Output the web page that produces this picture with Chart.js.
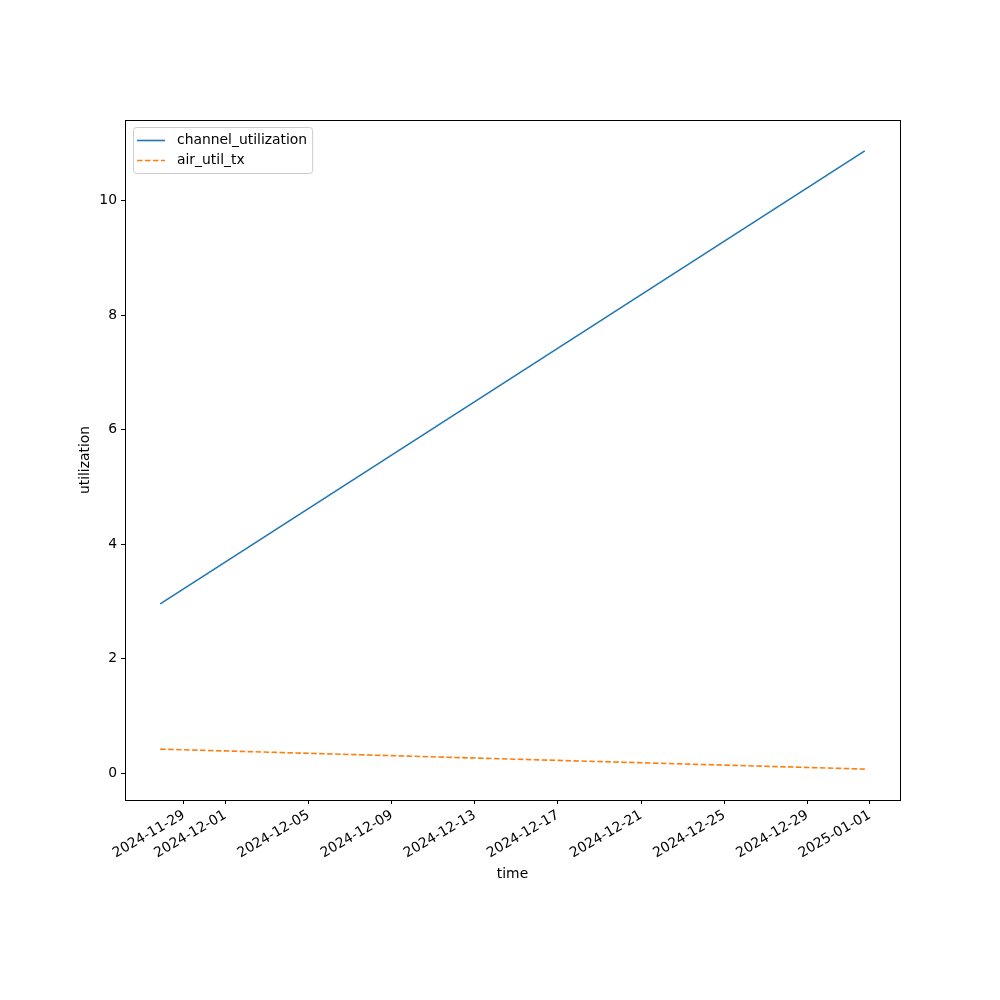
<!DOCTYPE html>
<html>
<head>
<meta charset="utf-8">
<script src="https://cdn.jsdelivr.net/npm/chart.js@4.4.1/dist/chart.umd.min.js"></script>
<style>
    body { margin: 0; background: #fff; }
    #wrap { width: 1000px; height: 1000px; }
</style>
</head>
<body>
<div id="wrap"><canvas id="utilChart"></canvas></div>
<script>
// Data
const timestamps = ['2024-11-27T20:40:00Z', '2024-12-31T18:15:00Z'];
const channelUtilization = [2.96, 10.87];
const airUtilTx = [0.424, 0.075];
const seriesNames = ['channel_utilization', 'air_util_tx'];
const xTickLabels = ['2024-11-29', '2024-12-01', '2024-12-05', '2024-12-09', '2024-12-13',
    '2024-12-17', '2024-12-21', '2024-12-25', '2024-12-29', '2025-01-01'];
const yTickLabels = [0, 2, 4, 6, 8, 10];

const FONT = 'DejaVu Sans';
const FS = 13.9;

function toMs(s) { return new Date(s).getTime(); }
function pad2(n) { return String(n).padStart(2, '0'); }
function fmtDate(ms) {
    const d = new Date(ms);
    return d.getUTCFullYear() + '-' + pad2(d.getUTCMonth() + 1) + '-' + pad2(d.getUTCDate());
}

const xs = timestamps.map(toMs);
const xSpan = xs[xs.length - 1] - xs[0];
const allY = channelUtilization.concat(airUtilTx);
const yLo = Math.min(...allY), yHi = Math.max(...allY);
const ySpan = yHi - yLo;

// matplotlib-style frame and legend
const framePlugin = {
    id: 'frame',
    afterDraw(chart) {
        const { ctx, chartArea: a } = chart;
        ctx.save();
        ctx.strokeStyle = '#000';
        ctx.lineWidth = 1;
        ctx.strokeRect(Math.round(a.left) + 0.5, Math.round(a.top) + 0.5,
            Math.round(a.right - a.left), Math.round(a.bottom - a.top));

        // legend
        ctx.font = FS + 'px "' + FONT + '"';
        const names = chart.data.datasets.map(ds => ds.label);
        const textW = Math.max(...names.map(n => ctx.measureText(n).width));
        const bx = a.left + 8, by = a.top + 7;
        const bw = 44 + textW + 5, bh = 46;
        ctx.beginPath();
        ctx.roundRect(bx + 0.5, by + 0.5, bw, bh, 3);
        ctx.fillStyle = 'rgba(255,255,255,0.8)';
        ctx.fill();
        ctx.strokeStyle = '#cccccc';
        ctx.stroke();
        chart.data.datasets.forEach((ds, i) => {
            const ly = by + 13.5 + i * 20;
            ctx.beginPath();
            ctx.strokeStyle = ds.borderColor;
            ctx.lineWidth = ds.borderWidth;
            ctx.setLineDash(ds.borderDash || []);
            ctx.moveTo(bx + 4, ly);
            ctx.lineTo(bx + 32, ly);
            ctx.stroke();
            ctx.setLineDash([]);
            ctx.fillStyle = '#000';
            ctx.textBaseline = 'middle';
            ctx.fillText(ds.label, bx + 44, ly);
        });
        ctx.restore();
    }
};

new Chart(document.getElementById('utilChart'), {
    type: 'line',
    data: {
        datasets: [
            {
                label: seriesNames[0],
                data: xs.map((x, i) => ({ x: x, y: channelUtilization[i] })),
                borderColor: '#1f77b4',
                borderWidth: 1.6,
                pointRadius: 0,
                fill: false
            },
            {
                label: seriesNames[1],
                data: xs.map((x, i) => ({ x: x, y: airUtilTx[i] })),
                borderColor: '#ff7f0e',
                borderWidth: 1.6,
                borderDash: [5.55, 2.4],
                pointRadius: 0,
                fill: false
            }
        ]
    },
    options: {
        responsive: true,
        maintainAspectRatio: false,
        animation: false,
        layout: { padding: { left: 70, top: 120, right: 100, bottom: 115 } },
        plugins: { legend: { display: false }, tooltip: { enabled: false } },
        scales: {
            x: {
                type: 'linear',
                min: xs[0] - 0.05 * xSpan,
                max: xs[xs.length - 1] + 0.05 * xSpan,
                afterBuildTicks: axis => { axis.ticks = xTickLabels.map(t => ({ value: toMs(t + 'T00:00:00Z') })); },
                afterFit: axis => { axis.height = 85; },
                ticks: {
                    autoSkip: false,
                    maxRotation: 30,
                    minRotation: 30,
                    padding: 3,
                    color: '#000',
                    font: { family: FONT, size: FS },
                    callback: v => fmtDate(v)
                },
                grid: { drawOnChartArea: false, drawTicks: true, tickLength: 4, color: '#000' },
                border: { color: '#000', width: 1 },
                title: {
                    display: true, text: 'time', color: '#000',
                    font: { family: FONT, size: FS }, padding: { top: 0, bottom: 2 }
                }
            },
            y: {
                min: yLo - 0.05 * ySpan,
                max: yHi + 0.05 * ySpan,
                afterBuildTicks: axis => { axis.ticks = yTickLabels.map(v => ({ value: v })); },
                afterFit: axis => { axis.width = 55; },
                ticks: {
                    padding: 4,
                    color: '#000',
                    font: { family: FONT, size: FS },
                    callback: v => String(v)
                },
                grid: { drawOnChartArea: false, drawTicks: true, tickLength: 4, color: '#000' },
                border: { color: '#000', width: 1 },
                title: {
                    display: true, text: 'utilization', color: '#000',
                    font: { family: FONT, size: FS }, padding: { top: 7, bottom: 0 }
                }
            }
        }
    },
    plugins: [framePlugin]
});
</script>
</body>
</html>
